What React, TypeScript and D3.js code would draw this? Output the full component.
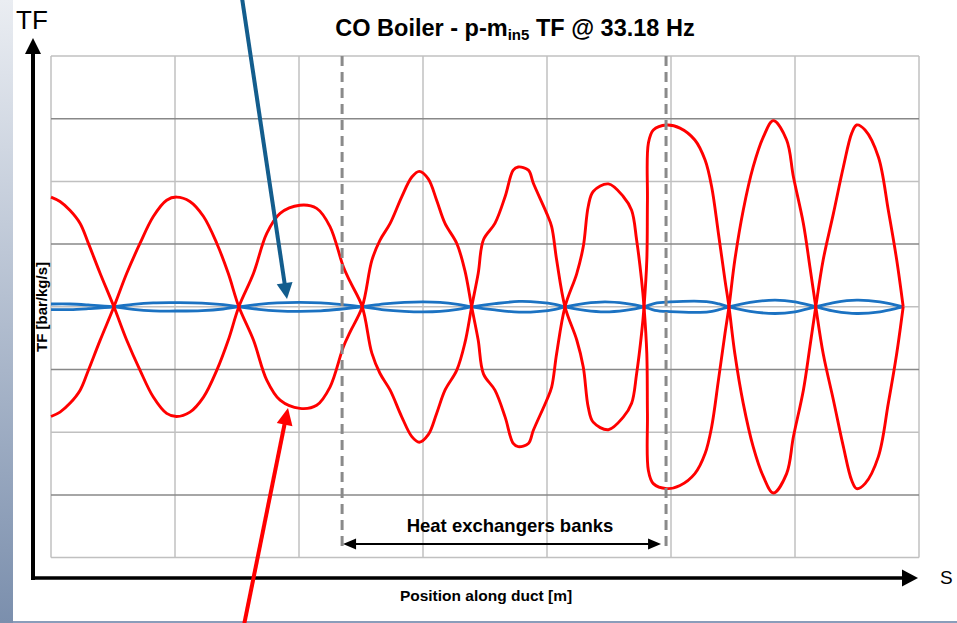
import React, { useRef, useEffect } from 'react';
import * as d3 from 'd3';

// transfer function along the duct (signed mode shape), red = p-m, blue = reference
const redPos = [
  0.0, 0.29, 0.61, 0.94, 1.2, 1.58, 2.03,
  2.44, 2.87, 3.3, 3.73, 4.05, 4.48, 4.92, 5.35, 5.72, 6.06,
  6.53, 6.96, 7.39, 8.03, 8.57, 9.0, 9.43, 9.65, 10.04,
  10.35, 10.61, 10.94, 11.31, 11.64, 11.88, 12.17, 12.44, 12.71, 13.09, 13.35, 13.57,
  13.78, 13.95, 14.32, 14.65, 14.91, 15.07, 15.4, 15.56, 15.99, 16.15, 16.31, 16.58,
  16.96, 17.17, 17.33, 17.49, 17.98, 18.46, 18.73, 18.89, 19.05, 19.13,
  19.22, 19.24, 19.27, 19.43, 19.86, 20.29, 20.77, 21.1, 21.31, 21.53, 21.74, 21.87,
  22.06, 22.33, 22.65, 22.98, 23.3, 23.73, 23.95, 24.27, 24.48, 24.67,
  24.91, 25.24, 25.56, 25.83, 25.99, 26.26, 26.69, 27.01, 27.28, 27.49,
];
const redTF = [
  1.75, 1.68, 1.54, 1.33, 1.02, 0.54, 0,
  -0.53, -1.01, -1.44, -1.7, -1.75, -1.68, -1.44, -1.01, -0.53, 0,
  0.53, 1.17, 1.49, 1.62, 1.57, 1.28, 0.64, 0.4, 0,
  -0.74, -1.06, -1.33, -1.75, -2.07, -2.16, -2.04, -1.7, -1.33, -1.01, -0.58, 0,
  0.53, 1.07, 1.33, 1.76, 2.18, 2.23, 2.18, 1.97, 1.49, 1.28, 0.75, 0,
  -0.53, -0.96, -1.6, -1.84, -1.96, -1.76, -1.54, -1.07, -0.43, 0,
  0.75, 1.7, 2.61, 2.82, 2.9, 2.85, 2.66, 2.34, 1.92, 1.17, 0.43, 0,
  -0.75, -1.54, -2.23, -2.71, -2.97, -2.66, -2.07, -1.33, -0.64, 0,
  0.75, 1.49, 2.23, 2.77, 2.9, 2.82, 2.39, 1.54, 0.75, 0,
];

const bluePos = [
  0, 0.61, 1.2, 2.03,
  2.65, 3.3, 4.13, 4.87, 5.55, 6.06,
  6.7, 7.3, 8.03, 8.7, 9.39, 10.04,
  10.74, 11.4, 12.0, 12.55, 13.12, 13.57,
  14.32, 15.1, 15.77, 16.26, 16.58,
  17.23, 17.87, 18.52, 19.13,
  19.48, 19.97, 20.94, 21.32, 21.55, 21.87,
  22.55, 23.35, 24.0, 24.67,
  25.3, 25.99, 26.74, 27.49,
];
const blueTF = [
  0.045, 0.045, 0.03, 0,
  -0.04, -0.064, -0.067, -0.06, -0.035, 0,
  0.04, 0.064, 0.072, 0.064, 0.035, 0,
  -0.048, -0.072, -0.08, -0.072, -0.04, 0,
  0.05, 0.085, 0.072, 0.04, 0,
  -0.056, -0.08, -0.056, 0,
  0.056, 0.077, 0.088, 0.072, 0.045, 0,
  -0.072, -0.107, -0.08, 0,
  0.072, 0.107, 0.08, 0,
];

const xTicks = [0, 4, 8, 12, 16, 20, 24, 28];
const yTicks = [-4, -3, -2, -1, 0, 1, 2, 3, 4];
const bankStart = 9.39;
const bankEnd = 19.84;

const FONT = "'Liberation Sans', Arial, sans-serif";

const App = () => {
  const svgRef = useRef<SVGSVGElement>(null);

  useEffect(() => {
    const W = 957, H = 623;
    const svg = d3.select(svgRef.current);
    svg.selectAll('*').remove();
    svg.attr('width', W).attr('height', H);

    const x = d3.scaleLinear().domain([0, 28]).range([51, 919]);
    const y = d3.scaleLinear().domain([-4, 4]).range([557.6, 56]);

    // left gradient strip + bottom rule
    const defs = svg.append('defs');
    const grad = defs.append('linearGradient').attr('id', 'strip')
      .attr('x1', 0).attr('y1', 0).attr('x2', 0).attr('y2', 1);
    grad.append('stop').attr('offset', '0%').attr('stop-color', '#eaedf2');
    grad.append('stop').attr('offset', '100%').attr('stop-color', '#7b8fad');
    svg.append('rect').attr('x', 0).attr('y', 0).attr('width', 13).attr('height', H).attr('fill', 'url(#strip)');
    svg.append('rect').attr('x', 13).attr('y', 621).attr('width', W - 13).attr('height', 2).attr('fill', '#8a9dba');

    // grid
    const grid = svg.append('g');
    grid.selectAll('.vg').data(xTicks).enter().append('line')
      .attr('x1', d => x(d)).attr('x2', d => x(d))
      .attr('y1', y(4)).attr('y2', y(-4))
      .attr('stroke', '#c0c0c0').attr('stroke-width', 1.5);
    grid.selectAll('.hg').data(yTicks).enter().append('line')
      .attr('x1', x(0)).attr('x2', x(28))
      .attr('y1', d => y(d)).attr('y2', d => y(d))
      .attr('stroke', d => (Math.abs(d) % 2 === 1 ? '#888888' : '#c0c0c0'))
      .attr('stroke-width', 1.5);

    const line = d3.line<[number, number]>()
      .x(d => x(d[0])).y(d => y(d[1]))
      .curve(d3.curveCatmullRom.alpha(0.5));

    const blue = bluePos.map((p, i) => [p, blueTF[i]] as [number, number]);
    const red = redPos.map((p, i) => [p, redTF[i]] as [number, number]);

    [1, -1].forEach(s => {
      svg.append('path')
        .attr('d', line(blue.map(d => [d[0], s * d[1]] as [number, number])))
        .attr('fill', 'none').attr('stroke', '#1b72c2').attr('stroke-width', 2.8);
    });
    [1, -1].forEach(s => {
      svg.append('path')
        .attr('d', line(red.map(d => [d[0], s * d[1]] as [number, number])))
        .attr('fill', 'none').attr('stroke', '#ff0000').attr('stroke-width', 2.9)
        .attr('stroke-linejoin', 'round');
    });

    // heat exchanger bank limits
    [bankStart, bankEnd].forEach(b => {
      svg.append('line')
        .attr('x1', x(b)).attr('x2', x(b))
        .attr('y1', y(4)).attr('y2', 549)
        .attr('stroke', '#8a8a8a').attr('stroke-width', 3)
        .attr('stroke-dasharray', '10,6');
    });

    const arrowHead = (tx: number, ty: number, fx: number, fy: number, len: number, half: number) => {
      const dx = tx - fx, dy = ty - fy;
      const n = Math.hypot(dx, dy);
      const ux = dx / n, uy = dy / n;
      const bx = tx - ux * len, by = ty - uy * len;
      return `M${tx},${ty}L${bx - uy * half},${by + ux * half}L${bx + uy * half},${by - ux * half}Z`;
    };

    // double arrow
    const ay = 544;
    const ax1 = x(bankStart) + 1, ax2 = x(bankEnd) - 5;
    svg.append('line').attr('x1', ax1 + 8).attr('x2', ax2 - 8).attr('y1', ay).attr('y2', ay)
      .attr('stroke', '#000').attr('stroke-width', 2);
    svg.append('path').attr('d', arrowHead(ax1, ay, ax2, ay, 13, 5.5)).attr('fill', '#000');
    svg.append('path').attr('d', arrowHead(ax2, ay, ax1, ay, 13, 5.5)).attr('fill', '#000');
    svg.append('text').attr('x', 510).attr('y', 532)
      .attr('text-anchor', 'middle').style('font-family', FONT)
      .style('font-size', '18.5px').style('font-weight', 'bold')
      .text('Heat exchangers banks');

    // main axes with arrows
    svg.append('line').attr('x1', 33).attr('x2', 33).attr('y1', 580).attr('y2', 50)
      .attr('stroke', '#000').attr('stroke-width', 4);
    svg.append('path').attr('d', arrowHead(33, 38, 33, 100, 16, 8)).attr('fill', '#000');
    svg.append('line').attr('x1', 31).attr('x2', 906).attr('y1', 578).attr('y2', 578)
      .attr('stroke', '#000').attr('stroke-width', 3.5);
    svg.append('path').attr('d', arrowHead(918, 578, 800, 578, 16, 8.5)).attr('fill', '#000');

    svg.append('text').attr('x', 16).attr('y', 29)
      .style('font-family', FONT).style('font-size', '26px').text('TF');
    svg.append('text').attr('x', 940).attr('y', 584)
      .style('font-family', FONT).style('font-size', '19px').text('S');

    // labels
    svg.append('text').attr('transform', 'translate(47,307) rotate(-90)')
      .attr('text-anchor', 'middle').style('font-family', FONT)
      .style('font-size', '15px').style('font-weight', 'bold')
      .text('TF [bar/kg/s]');
    svg.append('text').attr('x', 486).attr('y', 601)
      .attr('text-anchor', 'middle').style('font-family', FONT)
      .style('font-size', '15.5px').style('font-weight', 'bold')
      .text('Position along duct [m]');

    const title = svg.append('text').attr('x', 515).attr('y', 36)
      .attr('text-anchor', 'middle').style('font-family', FONT)
      .style('font-size', '23.5px').style('font-weight', 'bold');
    title.append('tspan').text('CO Boiler - p-m');
    title.append('tspan').attr('dy', 4).style('font-size', '15px').text('in5');
    title.append('tspan').attr('dy', -4).text(' TF @ 33.18 Hz');

    // annotation arrows
    svg.append('line').attr('x1', 242).attr('y1', -2).attr('x2', 285).attr('y2', 286)
      .attr('stroke', '#135d8d').attr('stroke-width', 4);
    svg.append('path').attr('d', arrowHead(287, 299, 242, -2, 16, 8)).attr('fill', '#135d8d');
    svg.append('line').attr('x1', 244).attr('y1', 625).attr('x2', 285).attr('y2', 422)
      .attr('stroke', '#ff0000').attr('stroke-width', 4);
    svg.append('path').attr('d', arrowHead(288, 408, 244, 625, 17, 8)).attr('fill', '#ff0000');
  }, []);

  return (
    <svg ref={svgRef} style={{ position: 'absolute', left: 0, top: 0, background: '#fff' }}></svg>
  );
};

export default App;
